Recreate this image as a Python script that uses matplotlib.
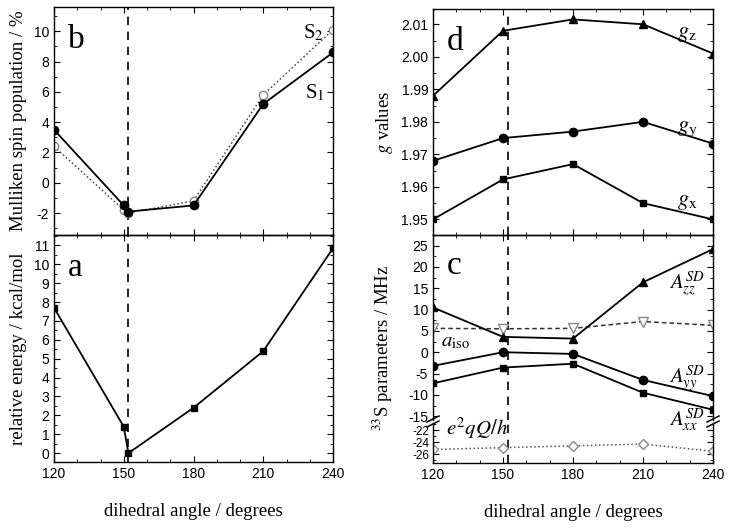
import matplotlib
matplotlib.use("Agg")
import matplotlib.pyplot as plt
from matplotlib.ticker import MultipleLocator
from matplotlib.lines import Line2D

plt.rcParams['font.family'] = ['Liberation Sans', 'DejaVu Sans']
plt.rcParams['mathtext.fontset'] = 'stix'
plt.rcParams['axes.unicode_minus'] = False
plt.rcParams['xtick.direction'] = 'in'
plt.rcParams['ytick.direction'] = 'in'
plt.rcParams['xtick.top'] = True
plt.rcParams['ytick.right'] = True
plt.rcParams['xtick.minor.visible'] = True
plt.rcParams['ytick.minor.visible'] = True
plt.rcParams['xtick.major.size'] = 4
plt.rcParams['ytick.major.size'] = 4
plt.rcParams['xtick.minor.size'] = 2.5
plt.rcParams['ytick.minor.size'] = 2.5
plt.rcParams['axes.linewidth'] = 1.0
plt.rcParams['xtick.labelsize'] = 10
plt.rcParams['ytick.labelsize'] = 10

SERIF = 'Liberation Serif'
LAB = 13.5

# panel a: relative energy
ang_e = [120, 150, 152, 180, 210, 240]
energy = [7.7, 1.4, 0.0, 2.4, 5.4, 10.85]

# panel b: Mulliken spin population
ang_s = [120, 150, 152, 180, 210, 240]
s1 = [3.5, -1.5, -1.9, -1.5, 5.2, 8.6]
s2 = [2.4, -1.8, -2.0, -1.2, 5.8, 10.1]

# panel d: g values
ang = [120, 150, 180, 210, 240]
gz = [1.988, 2.008, 2.0115, 2.010, 2.001]
gy = [1.968, 1.975, 1.977, 1.980, 1.9733]
gx = [1.950, 1.9623, 1.967, 1.955, 1.950]

# panel c: 33S parameters
azz = [10.5, 3.6, 3.2, 16.4, 24.2]
aiso = [5.6, 5.5, 5.6, 7.2, 6.3]
ayy = [-3.2, 0.0, -0.4, -6.5, -10.3]
axx = [-7.3, -3.6, -2.7, -9.5, -13.5]
eqq = [-25.2, -24.9, -24.6, -24.3, -25.5]

x_min = 152  # dashed line position

W, H = 729, 531
fig = plt.figure(figsize=(W / 100, H / 100), dpi=100)


def box(l, t, r, b):
    return [l / W, 1 - b / H, (r - l) / W, (b - t) / H]


ax_b = fig.add_axes(box(54, 7, 333, 235))
ax_a = fig.add_axes(box(54, 235, 333, 462))
ax_d = fig.add_axes(box(433, 9, 713, 235))
ax_c = fig.add_axes(box(433, 235, 713, 420))
ax_c2 = fig.add_axes(box(433, 423, 713, 463))

for ax in [ax_a, ax_b, ax_c, ax_c2, ax_d]:
    ax.set_xlim(120, 240)
    ax.xaxis.set_major_locator(MultipleLocator(30))
    ax.xaxis.set_minor_locator(MultipleLocator(10))
    ax.axvline(x_min, color='black', ls=(0, (5, 4)), lw=1.2)
    ax.patch.set_alpha(0)

for ax in [ax_b, ax_d, ax_c]:
    ax.tick_params(labelbottom=False)

# panel b
ax_b.plot(ang_s, s2, ls=':', color='#444444', lw=1.1, marker='o', mfc='white',
          mec='#888888', ms=6)
ax_b.plot(ang_s, s1, '-', color='black', lw=1.3, marker='o', ms=6)
ax_b.set_ylim(-3.45, 11.6)
ax_b.yaxis.set_major_locator(MultipleLocator(2))
ax_b.yaxis.set_minor_locator(MultipleLocator(1))
ax_b.set_ylabel('Mulliken spin population / %', family=SERIF, fontsize=LAB)
ax_b.yaxis.set_label_coords(-0.095, 0.5)
ax_b.text(0.05, 0.82, 'b', transform=ax_b.transAxes, family=SERIF, fontsize=24)
ax_b.text(227, 9.9, 'S$_2$', family=SERIF, fontsize=15, va='center')
ax_b.text(228, 5.9, 'S$_1$', family=SERIF, fontsize=15, va='center')

# panel a
ax_a.plot(ang_e, energy, '-', color='black', lw=1.3, marker='s', ms=5)
ax_a.set_ylim(-0.47, 11.55)
ax_a.yaxis.set_major_locator(MultipleLocator(1))
ax_a.yaxis.set_minor_locator(MultipleLocator(0.5))
ax_a.set_ylabel('relative energy / kcal/mol', family=SERIF, fontsize=LAB)
ax_a.yaxis.set_label_coords(-0.095, 0.5)
ax_a.set_xlabel('dihedral angle / degrees', family=SERIF, fontsize=LAB, labelpad=16)
ax_a.text(0.05, 0.82, 'a', transform=ax_a.transAxes, family=SERIF, fontsize=24)

# panel d
ax_d.plot(ang, gz, '-', color='black', lw=1.3, marker='^', ms=6)
ax_d.plot(ang, gy, '-', color='black', lw=1.3, marker='o', ms=6)
ax_d.plot(ang, gx, '-', color='black', lw=1.3, marker='s', ms=5)
ax_d.set_ylim(1.9452, 2.0147)
ax_d.yaxis.set_major_locator(MultipleLocator(0.01))
ax_d.yaxis.set_minor_locator(MultipleLocator(0.005))
ax_d.yaxis.set_major_formatter(plt.FormatStrFormatter('%.2f'))
ax_d.set_ylabel('$g$ values', family=SERIF, fontsize=LAB)
ax_d.yaxis.set_label_coords(-0.135, 0.5)
ax_d.text(0.05, 0.82, 'd', transform=ax_d.transAxes, family=SERIF, fontsize=24)
ax_d.text(224.5, 2.0073, r'$g_\mathrm{z}$', fontsize=16, va='center')
ax_d.text(224.5, 1.9781, r'$g_\mathrm{y}$', fontsize=16, va='center')
ax_d.text(224.5, 1.9554, r'$g_\mathrm{x}$', fontsize=16, va='center')

# panel c (upper part)
ax_c.plot(ang, aiso, ls=(0, (3, 2)), color='#333333', lw=1.1, marker='v', mfc='white',
          mec='#888888', ms=7)
ax_c.plot(ang, azz, '-', color='black', lw=1.3, marker='^', ms=6)
ax_c.plot(ang, ayy, '-', color='black', lw=1.3, marker='o', ms=6)
ax_c.plot(ang, axx, '-', color='black', lw=1.3, marker='s', ms=5)
ax_c.set_ylim(-15.9, 27.5)
ax_c.yaxis.set_major_locator(MultipleLocator(5))
ax_c.yaxis.set_minor_locator(MultipleLocator(2.5))
ax_c.spines['bottom'].set_visible(False)
ax_c.tick_params(which='both', bottom=False)
ax_c.text(0.05, 0.79, 'c', transform=ax_c.transAxes, family=SERIF, fontsize=24)
ax_c.text(236.5, 16.0, r'$A_{zz}^{SD}$', fontsize=15, ha='right', va='center')
ax_c.text(123.5, 2.6, r'$a_\mathrm{iso}$', fontsize=15, va='center')
ax_c.text(236.5, -6.1, r'$A_{yy}^{SD}$', fontsize=15, ha='right', va='center')
ax_c.text(236.5, -16.0, r'$A_{xx}^{SD}$', fontsize=15, ha='right', va='center')
ax_c.set_ylabel('$^{33}$S parameters / MHz', family=SERIF, fontsize=LAB)
ax_c.yaxis.set_label_coords(-0.135, 0.39)

# panel c (lower part)
ax_c2.plot(ang, eqq, ls=':', color='#555555', lw=1.1, marker='D', mfc='white',
           mec='#888888', ms=5.5)
ax_c2.set_ylim(-27.45, -20.8)
ax_c2.yaxis.set_major_locator(MultipleLocator(2))
ax_c2.yaxis.set_minor_locator(MultipleLocator(1))
ax_c2.tick_params(axis='y', labelsize=8.5, pad=2.5)
ax_c2.spines['top'].set_visible(False)
ax_c2.tick_params(which='both', top=False)
ax_c2.set_xlabel('dihedral angle / degrees', family=SERIF, fontsize=LAB, labelpad=16)
ax_c2.text(125.5, -21.6, r'$e^2qQ/h$', fontsize=15, va='center')

# axis break marks
for xp in [433, 713]:
    for dy in [-2.5, 2.5]:
        fig.add_artist(Line2D([(xp - 6) / W, (xp + 6) / W],
                              [1 - (421.5 + dy + 3) / H, 1 - (421.5 + dy - 3) / H],
                              color='black', lw=1.1))

fig.savefig('out.png', dpi=100)
